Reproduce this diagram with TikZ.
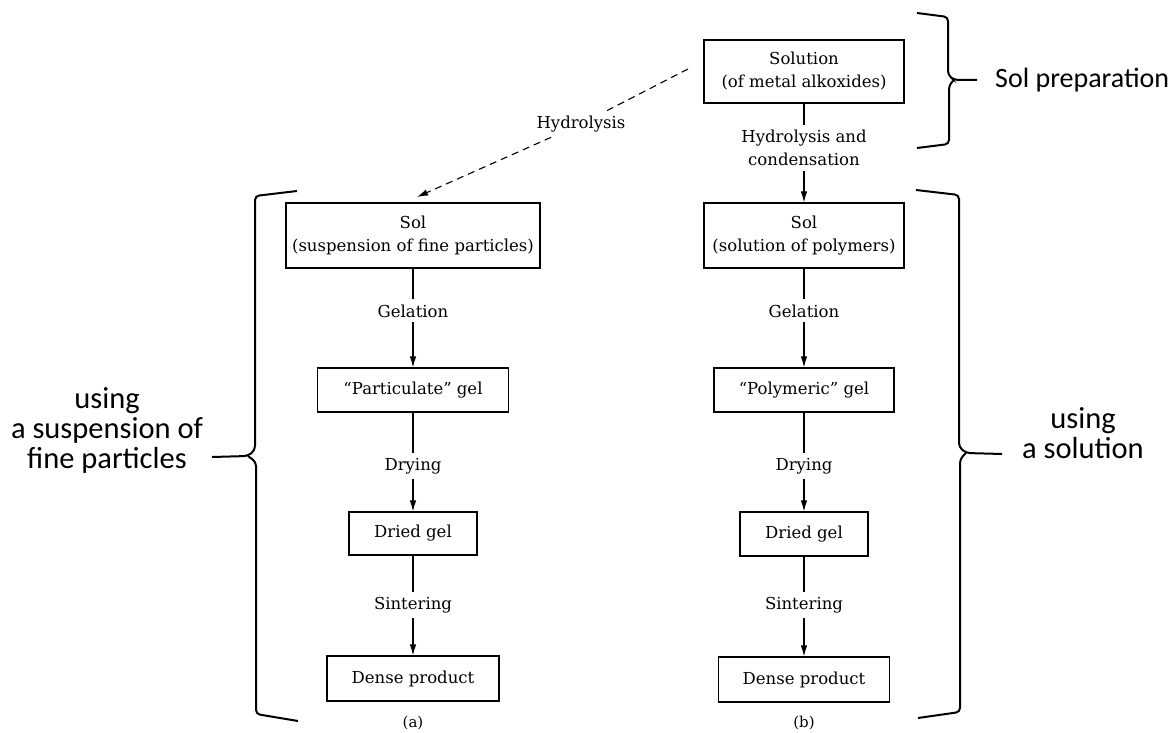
\documentclass[tikz,border=0pt]{standalone}
\usepackage{fontspec}
\setmainfont{DejaVu Serif}
\newfontfamily\calib{Carlito}
\usetikzlibrary{arrows.meta}
\begin{document}
\begin{tikzpicture}[x=1pt,y=-1pt,
  box/.style={draw, line width=1.1pt, inner sep=0pt, align=center,
    font=\fontsize{16.5}{23}\selectfont},
  lab/.style={inner sep=5pt, align=center, font=\fontsize{16.5}{23}\selectfont},
  conn/.style={line width=1.1pt},
  arr/.style={conn, -{Latex[length=11pt,width=6.5pt]}},
  dashline/.style={line width=1.1pt, dash pattern=on 7pt off 5pt},
  brc/.style={line width=2pt, rounded corners=4pt},
  side/.style={align=center, font=\calib\fontsize{30.5}{30}\selectfont}
]
\useasboundingbox (0,0) rectangle (1176,733);
\fill[white] (0,0) rectangle (1176,733);

% top
\node[box, minimum width=200pt, minimum height=63pt] (top) at (804,71.5) {Solution\\(of metal alkoxides)};
\node[lab] (hc) at (804,148) {Hydrolysis and\\condensation};

% left column
\node[box, minimum width=254pt, minimum height=65pt] (solA) at (413,235.5) {Sol\\(suspension of fine particles)};
\node[lab, anchor=base] (gelA) at (413,317) {Gelation};
\node[box, minimum width=191pt, minimum height=44pt] (partA) at (413,390) {“Particulate” gel};
\node[lab, anchor=base] (dryA) at (413,470) {Drying};
\node[box, minimum width=128pt, minimum height=43pt] (driedA) at (413,533.5) {Dried gel};
\node[lab, anchor=base] (sinA) at (413,609) {Sintering};
\node[box, minimum width=172pt, minimum height=45pt] (denseA) at (413,678.5) {Dense product};
\node[lab, font=\fontsize{15}{18}\selectfont] (a) at (413,723) {(a)};

% right column
\node[box, minimum width=200pt, minimum height=65pt] (solB) at (804,235.5) {Sol\\(solution of polymers)};
\node[lab, anchor=base] (gelB) at (804,317) {Gelation};
\node[box, minimum width=180pt, minimum height=44pt] (polyB) at (804,390) {“Polymeric” gel};
\node[lab, anchor=base] (dryB) at (804,470) {Drying};
\node[box, minimum width=128pt, minimum height=44pt] (driedB) at (804,534) {Dried gel};
\node[lab, anchor=base] (sinB) at (804,609) {Sintering};
\node[box, minimum width=171pt, minimum height=45pt] (denseB) at (804,679.5) {Dense product};
\node[lab, font=\fontsize{15}{18}\selectfont] (b) at (804,723) {(b)};

% connectors
\draw[conn] (top.south) -- (hc.north);
\draw[arr] (hc.south) -- (solB.north);

\draw[conn] (solA.south) -- (gelA.north);
\draw[arr] (gelA.south) -- (partA.north);
\draw[conn] (partA.south) -- (dryA.north);
\draw[arr] (dryA.south) -- (driedA.north);
\draw[conn] (driedA.south) -- (sinA.north);
\draw[arr] (sinA.south) -- (denseA.north);

\draw[conn] (solB.south) -- (gelB.north);
\draw[arr] (gelB.south) -- (polyB.north);
\draw[conn] (polyB.south) -- (dryB.north);
\draw[arr] (dryB.south) -- (driedB.north);
\draw[conn] (driedB.south) -- (sinB.north);
\draw[arr] (sinB.south) -- (denseB.north);

% dashed hydrolysis path
\coordinate (dstart) at (688,69);
\coordinate (dend) at (417,197);
\node[lab] (hyd) at (581,124) {Hydrolysis};
\draw[dashline] (dstart) -- (hyd);
\draw[dashline, -{Latex[length=11pt,width=6.5pt]}] (hyd) -- (dend);

% braces
\draw[brc] (917,13) -- (948,17) -- (948,75) -- (954,80) -- (977,80);
\draw[brc] (954,80) -- (949,85) -- (949,144) -- (917,148);

\draw[brc] (297,191) -- (255,196) -- (255,450) -- (248,456) -- (212,457);
\draw[brc] (248,456) -- (256,462) -- (256,714) -- (298,721);

\draw[brc] (916,190) -- (959,195) -- (959,447) -- (966,453) -- (1002,454);
\draw[brc] (966,453) -- (960,459) -- (960,712) -- (918,718);

% side labels
\node[anchor=base west, inner sep=0pt, font=\calib\fontsize{28}{30}\selectfont] (solprep) at (995,88) {Sol preparation};
\node[side] (lefttxt) at (107,430) {using\\a suspension of\\fine particles};
\node[side] (righttxt) at (1083,433) {using\\a solution};
\end{tikzpicture}
\end{document}
